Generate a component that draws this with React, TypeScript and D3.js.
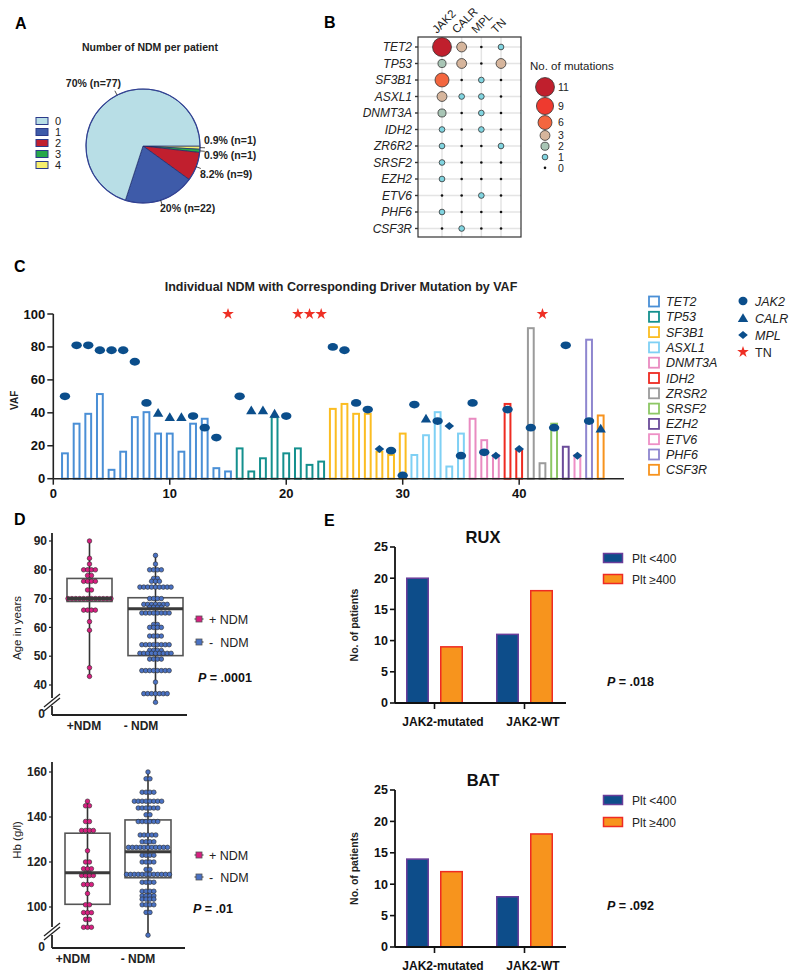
import React from 'react';
import * as d3 from 'd3';

const FONT = "'Liberation Sans', Arial, Helvetica, sans-serif";

// ---------- Panel A data ----------
const pieCategories = ['0', '1', '2', '3', '4'];
const pieCounts = [77, 22, 9, 1, 1];
const pieLabels = ['70% (n=77)', '20% (n=22)', '8.2% (n=9)', '0.9% (n=1)', '0.9% (n=1)'];
const pieColors = ['#b8dee6', '#3e5ba9', '#c11f2e', '#27a84a', '#f7ef6e'];

// ---------- Panel B data ----------
const bGenes = ['TET2', 'TP53', 'SF3B1', 'ASXL1', 'DNMT3A', 'IDH2', 'ZR6R2', 'SRSF2', 'EZH2', 'ETV6', 'PHF6', 'CSF3R'];
const bDrivers = ['JAK2', 'CALR', 'MPL', 'TN'];
const bJAK2 = [11, 2, 6, 3, 2, 1, 1, 1, 1, 0, 1, 0];
const bCALR = [3, 3, 0, 1, 0, 0, 0, 0, 0, 0, 0, 1];
const bMPL = [0, 0, 1, 1, 1, 1, 0, 0, 0, 1, 0, 0];
const bTN = [1, 3, 0, 0, 0, 0, 1, 0, 0, 0, 0, 0];
const bLevels = [11, 9, 6, 3, 2, 1, 0];
const bLevelColors = ['#c01f2d', '#ee3a2f', '#f3663f', '#d6b59c', '#a8c5b5', '#80d4e0', '#111111'];

// ---------- Panel C data ----------
const cGenes = ['TET2', 'TP53', 'SF3B1', 'ASXL1', 'DNMT3A', 'IDH2', 'ZRSR2', 'SRSF2', 'EZH2', 'ETV6', 'PHF6', 'CSF3R'];
const cGeneColors = ['#4a8fd6', '#14908e', '#fbbd22', '#7fd0f4', '#e98bc1', '#ee2b22', '#9b9b9b', '#8dc765', '#6b4c9a', '#ee90c6', '#8e86cf', '#f7931e'];
const cBarGene = [
  'TET2', 'TET2', 'TET2', 'TET2', 'TET2', 'TET2', 'TET2', 'TET2', 'TET2', 'TET2', 'TET2', 'TET2', 'TET2', 'TET2', 'TET2',
  'TP53', 'TP53', 'TP53', 'TP53', 'TP53', 'TP53', 'TP53', 'TP53',
  'SF3B1', 'SF3B1', 'SF3B1', 'SF3B1', 'SF3B1', 'SF3B1', 'SF3B1',
  'ASXL1', 'ASXL1', 'ASXL1', 'ASXL1', 'ASXL1',
  'DNMT3A', 'DNMT3A', 'DNMT3A',
  'IDH2', 'IDH2',
  'ZRSR2', 'ZRSR2',
  'SRSF2', 'EZH2', 'ETV6', 'PHF6', 'CSF3R'];
const cBarVAF = [
  16, 34, 40, 52, 6, 17, 38, 41, 28, 28, 17, 34, 37, 7, 5,
  19, 5, 13, 38, 16, 19, 9, 11,
  43, 46, 40, 40, 17, 15, 28,
  15, 27, 41, 8, 28,
  37, 24, 15,
  46, 18,
  92, 10,
  34, 20, 15, 85, 39];
const cDriver = [
  'JAK2', 'JAK2', 'JAK2', 'JAK2', 'JAK2', 'JAK2', 'JAK2', 'JAK2', 'CALR', 'CALR', 'CALR', 'JAK2', 'JAK2', 'JAK2', 'TN',
  'JAK2', 'CALR', 'CALR', 'CALR', 'JAK2', 'TN', 'TN', 'TN',
  'JAK2', 'JAK2', 'JAK2', 'JAK2', 'MPL', 'JAK2', 'JAK2',
  'JAK2', 'CALR', 'JAK2', 'MPL', 'JAK2',
  'JAK2', 'JAK2', 'MPL',
  'JAK2', 'MPL',
  'JAK2', 'TN',
  'JAK2', 'JAK2', 'MPL', 'JAK2', 'CALR'];
const cDriverVAF = [
  50, 81, 81, 78, 78, 78, 71, 46, 40, 37.5, 37.5, 38, 31, 25, 100,
  50, 41.5, 41.5, 39.5, 38, 100, 100, 100,
  80, 78, 46, 42, 18, 17, 2,
  45, 36.5, 35, 32, 14,
  46, 16, 14,
  42, 18,
  31, 100,
  31, 81, 14, 35, 30.5];
const cDriverTypes = ['JAK2', 'CALR', 'MPL', 'TN'];
const cYTicks = [0, 20, 40, 60, 80, 100];
const cXTicks = [0, 10, 20, 30, 40];

// ---------- Panel D data ----------
const dGroups = ['+NDM', '- NDM'];
const ageNDMpos = [90, 84, 82, 80, 80, 80, 80, 78, 78, 76, 76, 76, 76, 73, 73,
  70, 70, 70, 70, 70, 70, 70, 70, 70, 70, 70, 70, 66, 66, 66, 66, 62, 59, 46, 43];
const ageNDMneg = [85, 82, 80, 80, 80, 80, 77, 77, 76, 76, 76,
  74, 74, 74, 74, 74, 74, 74, 74, 74, 70, 70, 70, 70,
  68, 68, 68, 68, 68, 68, 68, 67, 67, 67, 67, 65, 65, 65, 65, 65, 65, 65, 65,
  61, 61, 60, 60, 60, 60, 57, 57, 57, 57, 54, 54, 54, 54, 54, 54, 54, 54,
  52, 52, 52, 52, 51, 51, 51, 51, 51, 51, 51, 51, 51, 49, 49, 49, 49,
  45, 45, 45, 45, 45, 45, 45, 45, 41, 37, 37, 37, 37, 37, 37, 37, 34];
const ageBoxPos = [43, 69, 70, 77, 90];
const ageBoxNeg = [34, 50.2, 66.5, 70.3, 85];
const ageTicks = [40, 50, 60, 70, 80, 90];
const hbNDMpos = [147, 145, 145, 138, 138, 134, 134, 134, 134, 125, 120, 120, 117, 117, 117,
  115, 115, 114, 114, 114, 114, 110, 110, 110, 106, 101, 101, 97.5, 97.5, 97.5, 94.5, 94.5, 91, 91, 91];
const hbNDMneg = [160, 157, 157, 151, 151, 151, 151, 147, 147, 147, 147, 147, 147, 147, 147,
  144, 144, 144, 144, 144, 144, 141, 141, 138, 138, 138, 138, 138, 138,
  132, 132, 132, 132, 132, 129, 129, 129, 129,
  126.5, 126.5, 126.5, 126.5, 126.5, 126.5, 126.5, 126.5, 126.5, 126.5, 126.5,
  123, 123, 123, 123, 120, 120, 120, 120, 116.7, 116.7,
  114.5, 114.5, 114.5, 114.5, 114.5, 114.5, 114.5, 114.5, 114.5, 114.5, 114.5, 114.5,
  111, 111, 111, 111, 107, 107, 107, 107, 105, 105, 105, 105, 103.5, 103.5, 103.5, 103.5,
  101, 101, 101, 101, 97.6, 97.6, 87.5];
const hbBoxPos = [91, 101.2, 115.2, 132.8, 147];
const hbBoxNeg = [87, 113, 124.6, 138.7, 160];
const hbTicks = [100, 120, 140, 160];

// ---------- Panel E data ----------
const eCats = ['JAK2-mutated', 'JAK2-WT'];
const ePlt = ['Plt <400', 'Plt \u2265400'];
const ruxLow = [20, 11];
const ruxHigh = [9, 18];
const batLow = [14, 8];
const batHigh = [12, 18];
const eTicks = [0, 5, 10, 15, 20, 25];

const ptsColor = { pos: '#d81f80', neg: '#4a72c4' };

function DotBox({ scale, cx, w, stats, values, fill }: any) {
  const [mn, q1, md, q3, mx] = stats;
  const groups = d3.groups(values as number[], (v: number) => v);
  const sp = 3.9;
  return (
    <g>
      <line x1={cx} x2={cx} y1={scale(mn)} y2={scale(mx)} stroke="#333" strokeWidth={1.6} />
      <rect x={cx - w / 2} y={scale(q3)} width={w} height={scale(q1) - scale(q3)} fill="none" stroke="#555" strokeWidth={1.6} />
      {groups.flatMap(([v, arr]) =>
        arr.map((_, i) => (
          <circle key={v + '-' + i} cx={cx + (i - (arr.length - 1) / 2) * sp} cy={scale(v)} r={2.3}
            fill={fill} stroke="#2a2a2a" strokeWidth={0.6} />
        )))}
      <line x1={cx - w / 2} x2={cx + w / 2} y1={scale(md)} y2={scale(md)} stroke="#3a3a3a" strokeWidth={3} />
    </g>
  );
}

function DPanel({ scale, ticks, yTop, y0, xEnd, brk, boxes, xLabels, yLabel, yLabelY, legY, pX, pY, pText }: any) {
  const ax = 52;
  return (
    <g fontFamily={FONT}>
      <line x1={ax} x2={ax} y1={yTop} y2={brk[0]} stroke="#222" strokeWidth={1.8} />
      <line x1={ax} x2={ax} y1={brk[1]} y2={y0} stroke="#222" strokeWidth={1.8} />
      <line x1={44} x2={60} y1={brk[1] + 1} y2={brk[0] - 4} stroke="#222" strokeWidth={1.3} />
      <line x1={44} x2={60} y1={brk[1] + 5} y2={brk[0]} stroke="#222" strokeWidth={1.3} />
      <line x1={ax} x2={xEnd} y1={y0} y2={y0} stroke="#222" strokeWidth={1.8} />
      {ticks.map((t: number) => (
        <g key={t}>
          <line x1={ax - 3} x2={ax} y1={scale(t)} y2={scale(t)} stroke="#222" strokeWidth={1.2} />
          <text x={ax - 5} y={scale(t)} dy="0.35em" textAnchor="end" fontSize={12} fontWeight="bold" fill="#222">{t}</text>
        </g>
      ))}
      <text x={ax - 7} y={y0 - 1} dy="0.35em" textAnchor="end" fontSize={12} fontWeight="bold" fill="#222">0</text>
      {boxes.map((b: any, i: number) => (
        <DotBox key={i} scale={scale} cx={b.cx} w={b.w} stats={b.stats} values={b.values} fill={b.fill} />
      ))}
      {xLabels.map((l: any, i: number) => (
        <text key={i} x={l.x} y={y0 + 15} textAnchor="middle" fontSize={12} fontWeight="bold" fill="#222">{dGroups[i]}</text>
      ))}
      <text transform={`translate(21,${yLabelY}) rotate(-90)`} textAnchor="middle" fontSize={11.5} fill="#222">{yLabel}</text>
      {[ptsColor.pos, ptsColor.neg].map((c, i) => (
        <g key={i} transform={`translate(199,${legY[i]})`}>
          <line x1={-4.5} x2={4.5} y1={0} y2={0} stroke="#444" strokeWidth={1.2} />
          <rect x={-3} y={-3} width={6} height={6} fill={c} stroke="#555" strokeWidth={0.8} />
          {i === 0
            ? <text x={10} y={4.5} fontSize={12.5} fill="#222">+ NDM</text>
            : <text x={10} y={4.5} fontSize={12.5} fill="#222"><tspan>-</tspan><tspan dx={7}>NDM</tspan></text>}
        </g>
      ))}
      <text x={pX} y={pY} fontSize={12.5} fontWeight="bold" fill="#111"><tspan fontStyle="italic">P</tspan> = {pText}</text>
    </g>
  );
}

function EPanel({ title, y0, y25, low, high, legY, pY, pText }: any) {
  const ax = 395;
  const y = d3.scaleLinear().domain([0, 25]).range([y0, y25]);
  const xg = d3.scalePoint<string>().domain(eCats).range([434.5, 524.5]);
  const xs = d3.scaleBand<number>().domain([0, 1]).range([-28.5, 28.5]).paddingInner(0.324);
  const series = [low, high];
  const fills = ['#0d4d8a', '#f7941d'];
  const strokes = ['#6a3d9a', '#ee2b24'];
  return (
    <g fontFamily={FONT}>
      <text x={483} y={y25 - 4} textAnchor="middle" fontSize={16.5} fontWeight="bold" fill="#111">{title}</text>
      {series.map((s: number[], si: number) => s.map((v, ci) => (
        <rect key={si + '-' + ci} x={xg(eCats[ci])! + xs(si)! + 0.75} y={y(v)} width={xs.bandwidth() - 1.5} height={y(0) - y(v)}
          fill={fills[si]} stroke={strokes[si]} strokeWidth={1.5} />
      )))}
      <line x1={ax} x2={ax} y1={y25} y2={y0} stroke="#111" strokeWidth={1.8} />
      <line x1={ax} x2={566} y1={y0} y2={y0} stroke="#111" strokeWidth={1.8} />
      {eTicks.map(t => (
        <g key={t}>
          <line x1={ax - 5} x2={ax} y1={y(t)} y2={y(t)} stroke="#111" strokeWidth={1.6} />
          <text x={ax - 7} y={y(t)} dy="0.35em" textAnchor="end" fontSize={12.5} fontWeight="bold" fill="#111">{t}</text>
        </g>
      ))}
      {eCats.map(c => (
        <g key={c}>
          <line x1={xg(c)} x2={xg(c)} y1={y0} y2={y0 + 6} stroke="#111" strokeWidth={1.6} />
          <text x={xg(c)! + 8.5} y={y0 + 23} textAnchor="middle" fontSize={12} fontWeight="bold" fill="#111">{c}</text>
        </g>
      ))}
      <text transform={`translate(358,${(y0 + y25) / 2}) rotate(-90)`} textAnchor="middle" fontSize={10.5} fontWeight="bold" fill="#222">No. of patients</text>
      {ePlt.map((p, i) => (
        <g key={p}>
          <rect x={603.5} y={legY[i] - 4.5} width={19} height={9} fill={fills[i]} stroke={strokes[i]} strokeWidth={1.5} />
          <text x={632} y={legY[i] + 4.5} fontSize={12} fill="#222">{p}</text>
        </g>
      ))}
      <text x={607} y={pY} fontSize={12.5} fontWeight="bold" fill="#111"><tspan fontStyle="italic">P</tspan> = {pText}</text>
    </g>
  );
}

export default function App() {
  // ----- Panel A -----
  const pieCx = 143, pieCy = 146, pieR = 57;
  const order = d3.range(pieCounts.length).reverse();
  const pieGen = d3.pie<number>().sort(null).value((i: number) => pieCounts[i])
    .startAngle(Math.PI / 2).endAngle(Math.PI / 2 + 2 * Math.PI);
  const arcs = pieGen(order);
  const arcGen = d3.arc<any>().innerRadius(0).outerRadius(pieR);
  const labelLayout = [
    { ang: (333 * Math.PI) / 180, tx: 121, ty: 87, anchor: 'end' },
    { ang: null, tx: 160, ty: 212, anchor: 'start' },
    { ang: null, tx: 200, ty: 178, anchor: 'start' },
    { ang: null, tx: 204, ty: 159, anchor: 'start' },
    { ang: null, tx: 204, ty: 144, anchor: 'start' },
  ];
  const pt = (a: number, r: number) => [pieCx + r * Math.sin(a), pieCy - r * Math.cos(a)];

  // ----- Panel B -----
  const bCounts = bGenes.map((_, i) => [bJAK2[i], bCALR[i], bMPL[i], bTN[i]]);
  const by = d3.scalePoint<string>().domain(bGenes).range([47, 228.5]);
  const bx = d3.scalePoint<string>().domain(bDrivers).range([442, 501]);
  const bColor = d3.scaleOrdinal<number, string>().domain(bLevels).range(bLevelColors);
  const bR = (v: number) => (v === 0 ? 1.3 : 2.85 * Math.sqrt(v));
  const legYs: number[] = [];
  bLevels.forEach((v, i) => {
    if (i === 0) legYs.push(87);
    else legYs.push(legYs[i - 1] + Math.max(10.8, bR(bLevels[i - 1]) + bR(v) + 1));
  });

  // ----- Panel C -----
  const cx = d3.scaleLinear().domain([0, 49]).range([53.3, 624]);
  const cy = d3.scaleLinear().domain([0, 100]).range([478.7, 314]);
  const geneColor = d3.scaleOrdinal<string, string>().domain(cGenes).range(cGeneColors);
  const markBlue = '#0b4e8b';
  const starPath = d3.symbol().type(d3.symbolStar).size(42)() as string;
  const marker = (type: string, key: string | number) => {
    if (type === 'JAK2') return <ellipse key={key} rx={5.2} ry={3.9} fill={markBlue} />;
    if (type === 'CALR') return <path key={key} d="M0,-4.8L5.2,4L-5.2,4Z" fill={markBlue} />;
    if (type === 'MPL') return <path key={key} d="M0,-4L4.8,0L0,4L-4.8,0Z" fill={markBlue} />;
    return <path key={key} d={starPath} fill="#ee2f24" />;
  };

  // ----- Panel D -----
  const ageScale = d3.scaleLinear().domain([40, 90]).range([685, 541]);
  const hbScale = d3.scaleLinear().domain([100, 160]).range([907, 772]);

  return (
    <svg width={800} height={977} style={{ position: 'absolute', left: 0, top: 0, background: '#fff' }} fontFamily={FONT}>
      <rect width={800} height={977} fill="#fff" />
      {/* Panel letters */}
      <text x={15} y={29} fontSize={16} fontWeight="bold">A</text>
      <text x={324} y={28} fontSize={16} fontWeight="bold">B</text>
      <text x={14} y={272} fontSize={16} fontWeight="bold">C</text>
      <text x={14} y={525} fontSize={16} fontWeight="bold">D</text>
      <text x={324} y={526} fontSize={16} fontWeight="bold">E</text>

      {/* ===== Panel A ===== */}
      <text x={150} y={51} textAnchor="middle" fontSize={10.5} fontWeight="bold" fill="#222">Number of NDM per patient</text>
      <g transform={`translate(${pieCx},${pieCy})`}>
        {arcs.map(a => (
          <path key={a.data} d={arcGen(a) as string} fill={pieColors[a.data]} stroke="#1d2a6a" strokeWidth={0.7} />
        ))}
        <circle r={pieR} fill="none" stroke="#2e3f95" strokeWidth={1.1} />
      </g>
      {arcs.map(a => {
        const L = labelLayout[a.data];
        const ang = L.ang ?? (a.startAngle + a.endAngle) / 2;
        const p0 = pt(ang, pieR);
        const p1 = pt(ang, pieR + 5);
        return (
          <g key={a.data}>
            <line x1={p0[0]} y1={p0[1]} x2={p1[0]} y2={p1[1]} stroke="#222" strokeWidth={0.8} />
            <text x={L.tx} y={L.ty} textAnchor={L.anchor as any} fontSize={10.5} fontWeight="bold" fill="#222">{pieLabels[a.data]}</text>
          </g>
        );
      })}
      {pieCategories.map((c, i) => (
        <g key={c}>
          <rect x={36} y={117.5 + i * 11} width={12} height={7} fill={pieColors[i]} stroke="#2b3a8a" strokeWidth={1} />
          <text x={55} y={125 + i * 11} fontSize={11} fill="#222">{c}</text>
        </g>
      ))}

      {/* ===== Panel B ===== */}
      <g>
        {bGenes.map(g => (
          <line key={g} x1={418} x2={521} y1={by(g)} y2={by(g)} stroke="#e4e4e4" strokeWidth={1.5} />
        ))}
        {bDrivers.map(d => (
          <line key={d} x1={bx(d)} x2={bx(d)} y1={37} y2={237} stroke="#e4e4e4" strokeWidth={1.5} />
        ))}
        <rect x={418} y={37} width={103} height={200} fill="none" stroke="#333" strokeWidth={1.2} />
        {bGenes.map(g => (
          <g key={g}>
            <line x1={415} x2={418} y1={by(g)} y2={by(g)} stroke="#333" strokeWidth={1.4} />
            <text x={412} y={by(g)} dy="0.35em" textAnchor="end" fontSize={12} fontStyle="italic" fill="#222">{g}</text>
          </g>
        ))}
        {bDrivers.map(d => (
          <text key={d} transform={`translate(${bx(d)! - 5},34) rotate(-45)`} fontSize={11.5} fill="#222">{d}</text>
        ))}
        {bCounts.map((row, ri) => row.map((v, ci) => (
          <circle key={ri + '-' + ci} cx={bx(bDrivers[ci])} cy={by(bGenes[ri])} r={bR(v)} fill={bColor(v)}
            stroke={v === 0 ? 'none' : '#333'} strokeWidth={0.8} />
        )))}
        <text x={530} y={70} fontSize={11.5} fill="#222">No. of mutations</text>
        {bLevels.map((v, i) => (
          <g key={v}>
            <circle cx={545} cy={legYs[i]} r={bR(v)} fill={bColor(v)} stroke={v === 0 ? 'none' : '#333'} strokeWidth={0.8} />
            <text x={558} y={legYs[i]} dy="0.35em" fontSize={10.5} fill="#222">{v}</text>
          </g>
        ))}
      </g>

      {/* ===== Panel C ===== */}
      <g>
        <text x={341} y={291} textAnchor="middle" fontSize={12.5} fontWeight="bold" fill="#222">Individual NDM with Corresponding Driver Mutation by VAF</text>
        {cBarVAF.map((v, i) => (
          <rect key={i} x={cx(i + 1) - 2.9} y={cy(v) + 1} width={5.8} height={cy(0) - cy(v) - 1}
            fill="#fff" stroke={geneColor(cBarGene[i])} strokeWidth={2} />
        ))}
        {cDriverVAF.map((v, i) => (
          <g key={i} transform={`translate(${cx(i + 1)},${cy(v)})`}>{marker(cDriver[i], i)}</g>
        ))}
        <line x1={cx(0)} x2={cx(0)} y1={cy(100)} y2={cy(0)} stroke="#222" strokeWidth={1.6} />
        <line x1={cx(0)} x2={cx(49)} y1={cy(0)} y2={cy(0)} stroke="#222" strokeWidth={1.6} />
        {cYTicks.map(t => (
          <g key={t}>
            <line x1={cx(0) - 6} x2={cx(0)} y1={cy(t)} y2={cy(t)} stroke="#222" strokeWidth={1.5} />
            <text x={cx(0) - 8} y={cy(t)} dy="0.35em" textAnchor="end" fontSize={13} fontWeight="bold" fill="#111">{t}</text>
          </g>
        ))}
        {cXTicks.map(t => (
          <g key={t}>
            <line x1={cx(t)} x2={cx(t)} y1={cy(0)} y2={cy(0) + 6} stroke="#222" strokeWidth={1.5} />
            <text x={cx(t)} y={cy(0) + 19} textAnchor="middle" fontSize={13} fontWeight="bold" fill="#111">{t}</text>
          </g>
        ))}
        <text transform={`translate(18,${(cy(0) + cy(100)) / 2 + 4}) rotate(-90)`} textAnchor="middle" fontSize={10} fontWeight="bold" fill="#222">VAF</text>
        {cGenes.map((g, i) => (
          <g key={g}>
            <rect x={649} y={296.5 + i * 15.3} width={10} height={10} fill="#fff" stroke={cGeneColors[i]} strokeWidth={1.8} />
            <text x={666} y={306 + i * 15.3} fontSize={12.5} fontStyle="italic" fill="#222">{g}</text>
          </g>
        ))}
        {cDriverTypes.map((d, i) => (
          <g key={d} transform={`translate(743,${301 + i * 17})`}>
            {d === 'JAK2' ? <ellipse rx={4.5} ry={4.2} fill={markBlue} /> : marker(d, d)}
            <text x={12} y={4.5} fontSize={12.5} fontStyle={d === 'TN' ? 'normal' : 'italic'} fill="#222">{d}</text>
          </g>
        ))}
      </g>

      {/* ===== Panel D ===== */}
      <DPanel scale={ageScale} ticks={ageTicks} yTop={533} y0={715} xEnd={187} brk={[698, 706]}
        boxes={[
          { cx: 89.5, w: 45, stats: ageBoxPos, values: ageNDMpos, fill: ptsColor.pos },
          { cx: 155.5, w: 55, stats: ageBoxNeg, values: ageNDMneg, fill: ptsColor.neg },
        ]}
        xLabels={[{ x: 84 }, { x: 141 }]} yLabel="Age in years" yLabelY={628} legY={[619, 642]}
        pX={198} pY={682} pText=".0001" />
      <DPanel scale={hbScale} ticks={hbTicks} yTop={762} y0={948} xEnd={185} brk={[927, 935]}
        boxes={[
          { cx: 87.5, w: 45, stats: hbBoxPos, values: hbNDMpos, fill: ptsColor.pos },
          { cx: 148, w: 46, stats: hbBoxNeg, values: hbNDMneg, fill: ptsColor.neg },
        ]}
        xLabels={[{ x: 73 }, { x: 138 }]} yLabel="Hb (g/l)" yLabelY={840} legY={[855, 877]}
        pX={193} pY={913} pText=".01" />

      {/* ===== Panel E ===== */}
      <EPanel title="RUX" y0={703} y25={547} low={ruxLow} high={ruxHigh} legY={[558, 579]} pY={686} pText=".018" />
      <EPanel title="BAT" y0={947} y25={790} low={batLow} high={batHigh} legY={[800, 822]} pY={910} pText=".092" />
    </svg>
  );
}
